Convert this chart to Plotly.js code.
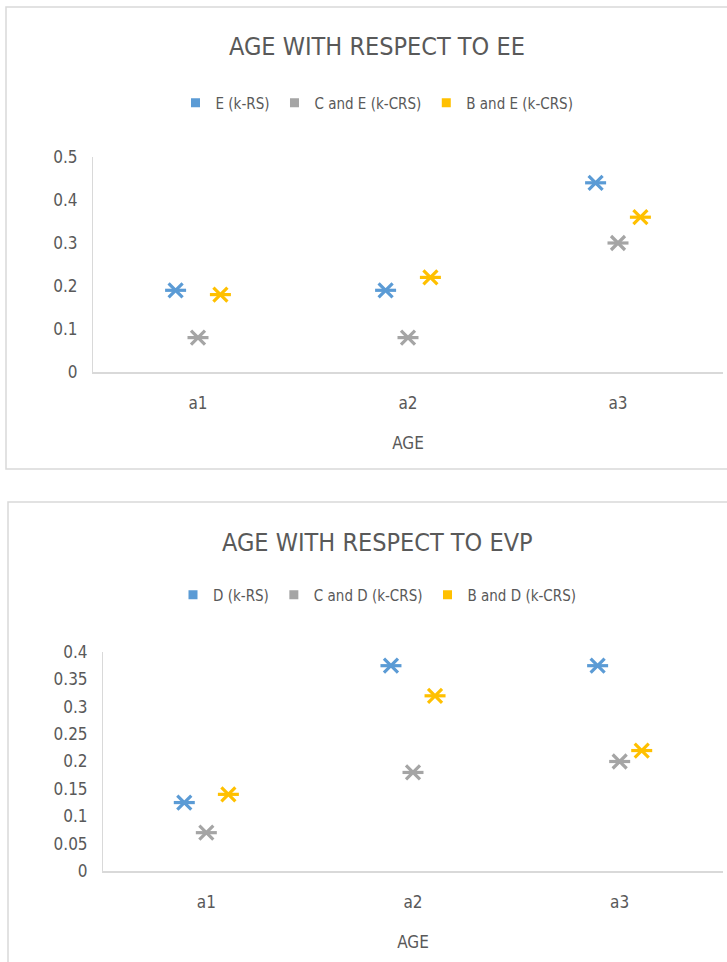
<!DOCTYPE html>
<html>
<head>
<meta charset="utf-8">
<script src="https://cdn.plot.ly/plotly-3.0.1.min.js"></script>
<style>
  html, body { margin: 0; padding: 0; background: #ffffff; }
  #chart { width: 727px; height: 962px; }
</style>
</head>
<body>
<div id="chart"></div>
<script>
// Age groups on the category axis
const categories = ['a1', 'a2', 'a3'];

// Chart 1: AGE WITH RESPECT TO EE
const eeTitle = 'AGE WITH RESPECT TO EE';
const eeSeriesNames = ['E (k-RS)', 'C and E (k-CRS)', 'B and E (k-CRS)'];
const eeKRS = [0.19, 0.19, 0.44];
const eeCandE = [0.08, 0.08, 0.30];
const eeBandE = [0.18, 0.22, 0.36];
const eeTickVals = [0, 0.1, 0.2, 0.3, 0.4, 0.5];
const eeTickText = ['0', '0.1', '0.2', '0.3', '0.4', '0.5'];

// Chart 2: AGE WITH RESPECT TO EVP
const evpTitle = 'AGE WITH RESPECT TO EVP';
const evpSeriesNames = ['D (k-RS)', 'C and D (k-CRS)', 'B and D (k-CRS)'];
const evpKRS = [0.125, 0.375, 0.375];
const evpCandD = [0.07, 0.18, 0.20];
const evpBandD = [0.14, 0.32, 0.22];
const evpTickVals = [0, 0.05, 0.1, 0.15, 0.2, 0.25, 0.3, 0.35, 0.4];
const evpTickText = ['0', '0.05', '0.1', '0.15', '0.2', '0.25', '0.3', '0.35', '0.4'];

const xAxisTitle = 'AGE';
const seriesColors = ['#5B9BD5', '#A5A5A5', '#FFC000'];

const FONT = '"DejaVu Sans Condensed", "Liberation Sans Narrow", Roboto, sans-serif';
const TEXT_COLOR = '#595959';
const AXIS_COLOR = '#D9D9D9';

// Each series is drawn as a six-spoke asterisk: an X layer plus a horizontal bar layer,
// both sharing one offsetgroup so they sit in the same slot of the category cluster.
// A data-less trace carries the square legend swatch.
function seriesTraces(name, values, color, group, xa, ya, legendId) {
  const common = {
    x: categories, y: values, type: 'scatter', mode: 'markers',
    xaxis: xa, yaxis: ya, offsetgroup: group, showlegend: false,
    hoverinfo: 'x+y+name', name: name
  };
  return [
    Object.assign({}, common, {
      marker: { symbol: 'x-thin-open', size: 14, color: color, line: { color: color, width: 3.2 } }
    }),
    Object.assign({}, common, {
      marker: { symbol: 'line-ew-open', size: 15, color: color, line: { color: color, width: 3.2 } }
    }),
    {
      x: [null], y: [null], type: 'scatter', mode: 'markers', name: name,
      xaxis: xa, yaxis: ya, offsetgroup: group, legend: legendId, showlegend: true,
      marker: { symbol: 'square', size: 9, color: color }
    }
  ];
}

const eeValues = [eeKRS, eeCandE, eeBandE];
const evpValues = [evpKRS, evpCandD, evpBandD];

let traces = [];
eeValues.forEach((vals, i) => {
  traces = traces.concat(seriesTraces(eeSeriesNames[i], vals, seriesColors[i], 'g' + i, 'x', 'y', 'legend'));
});
evpValues.forEach((vals, i) => {
  traces = traces.concat(seriesTraces(evpSeriesNames[i], vals, seriesColors[i], 'g' + i, 'x2', 'y2', 'legend2'));
});

const W = 727, H = 962;
const px = v => v / W;
const py = v => 1 - v / H;

function xAxis(domain, anchor) {
  return {
    domain: domain, anchor: anchor, type: 'category',
    showline: true, linecolor: AXIS_COLOR, linewidth: 1.5,
    showgrid: false, zeroline: false, ticks: '', ticklabelstandoff: 15,
    tickfont: { family: FONT, size: 17, color: TEXT_COLOR },
    title: { text: xAxisTitle, standoff: 25, font: { family: FONT, size: 17, color: TEXT_COLOR } },
    fixedrange: true
  };
}
function yAxis(domain, anchor, range, vals, text) {
  return {
    domain: domain, anchor: anchor, range: range,
    tickmode: 'array', tickvals: vals, ticktext: text,
    showline: true, linecolor: AXIS_COLOR, linewidth: 1,
    showgrid: false, zeroline: false, ticks: '', ticklabelstandoff: 11,
    tickfont: { family: FONT, size: 17, color: TEXT_COLOR },
    fixedrange: true
  };
}

const legendCommon = {
  orientation: 'h', xanchor: 'center', yanchor: 'middle',
  font: { family: FONT, size: 15, color: TEXT_COLOR },
  bgcolor: 'rgba(0,0,0,0)', itemwidth: 30, itemclick: false, itemdoubleclick: false
};

const layout = {
  width: W, height: H,
  margin: { l: 0, r: 0, t: 0, b: 0 },
  paper_bgcolor: '#ffffff', plot_bgcolor: '#ffffff',
  showlegend: true,
  scattermode: 'group',
  scattergap: 0.68,
  xaxis: xAxis([px(93), px(723)], 'y'),
  yaxis: yAxis([py(372), py(157)], 'x', [0, 0.5], eeTickVals, eeTickText),
  xaxis2: xAxis([px(103), px(723)], 'y2'),
  yaxis2: yAxis([py(871), py(652)], 'x2', [0, 0.4], evpTickVals, evpTickText),
  legend: Object.assign({}, legendCommon, { x: px(377), y: py(103) }),
  legend2: Object.assign({}, legendCommon, { x: px(377), y: py(595) }),
  annotations: [
    { text: eeTitle, xref: 'paper', yref: 'paper', x: px(377), y: py(46),
      xanchor: 'center', yanchor: 'middle', showarrow: false,
      font: { family: FONT, size: 25, color: TEXT_COLOR } },
    { text: evpTitle, xref: 'paper', yref: 'paper', x: px(377), y: py(542),
      xanchor: 'center', yanchor: 'middle', showarrow: false,
      font: { family: FONT, size: 25, color: TEXT_COLOR } }
  ],
  shapes: [
    { type: 'rect', xref: 'paper', yref: 'paper', x0: px(6), x1: px(760), y0: py(469), y1: py(7),
      line: { color: AXIS_COLOR, width: 1.5 }, layer: 'below' },
    { type: 'rect', xref: 'paper', yref: 'paper', x0: px(8), x1: px(760), y0: py(1000), y1: py(502),
      line: { color: AXIS_COLOR, width: 1.5 }, layer: 'below' }
  ]
};

Plotly.newPlot('chart', traces, layout, { displayModeBar: false, staticPlot: true });
</script>
</body>
</html>
